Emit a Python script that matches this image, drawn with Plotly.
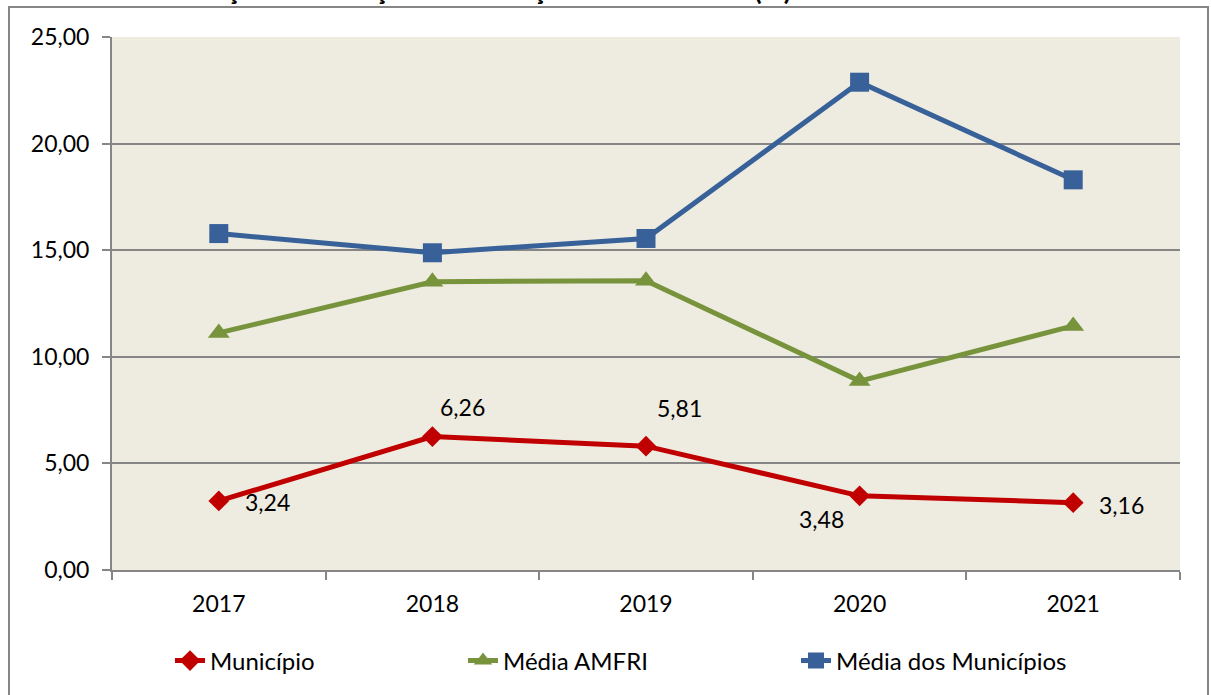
import plotly.graph_objects as go

anos = ['2017', '2018', '2019', '2020', '2021']
municipio = [3.24, 6.26, 5.81, 3.48, 3.16]
media_amfri = [11.12, 13.52, 13.57, 8.86, 11.45]
media_municipios = [15.78, 14.88, 15.55, 22.88, 18.30]
rotulos_municipio = ['3,24', '6,26', '5,81', '3,48', '3,16']

FONTE = 'Lato'
VERMELHO = '#C00000'
VERDE = '#77933C'
AZUL = '#376198'

W, H = 1211, 695
L, T = 112, 37
R = W - 1180
B = H - 570
pw, ph = W - L - R, H - T - B


def px_x(x):
    return (x - L) / pw


def px_y(y):
    return (H - B - y) / ph


fig = go.Figure()

series = [
    ('Média dos Municípios', media_municipios, AZUL, 'square', 19, 'legend3'),
    ('Média AMFRI', media_amfri, VERDE, 'triangle-up', 19, 'legend2'),
    ('Município', municipio, VERMELHO, 'diamond', 16, 'legend'),
]
for nome, vals, cor, simb, tam, leg in series:
    fig.add_trace(go.Scatter(
        x=anos, y=vals, name=nome, mode='lines+markers',
        line=dict(color=cor, width=5),
        marker=dict(symbol=simb, size=tam, color=cor, line=dict(width=0)),
        legend=leg,
    ))

# rótulos da série Município (posições ajustadas à mão como no original)
desloc = [(49, -1), (30, 30), (33, 38), (-38, -23), (48, -2)]
for i, (v, txt, (dx, dy)) in enumerate(zip(municipio, rotulos_municipio, desloc)):
    fig.add_annotation(x=i, y=v, text=txt, showarrow=False, xshift=dx, yshift=dy,
                       font=dict(family=FONTE, size=23, color='black'))

# título cortado no topo (a imagem original corta a metade de cima)
fig.add_annotation(
    xref='paper', yref='paper', x=px_x(13), y=px_y(8), xanchor='left', yanchor='bottom',
    text='<b>Gráfico 6: – Evolução do Esforço de Cobrança da Dívida Ativa (%): 2017 – 2021</b>',
    showarrow=False, font=dict(family=FONTE, size=27, color='black'),
)

# moldura do gráfico
fig.add_shape(type='rect', xref='paper', yref='paper',
              x0=px_x(9), x1=px_x(1208), y0=px_y(705), y1=px_y(7),
              line=dict(color='#868686', width=2), fillcolor='rgba(0,0,0,0)', layer='below')

leg_base = dict(orientation='h', yanchor='middle', xanchor='left', y=px_y(661),
                bgcolor='rgba(0,0,0,0)', font=dict(family=FONTE, size=24, color='black'),
                itemwidth=30)

fig.update_layout(
    width=W, height=H,
    margin=dict(l=L, r=R, t=T, b=B),
    paper_bgcolor='white',
    plot_bgcolor='#EEEBE0',
    separators=',.',
    font=dict(family=FONTE, size=23, color='black'),
    legend=dict(leg_base, x=px_x(170)),
    legend2=dict(leg_base, x=px_x(463)),
    legend3=dict(leg_base, x=px_x(796)),
    xaxis=dict(
        type='category', range=[-0.5, 4.5], tickson='boundaries', ticks='outside', ticklen=8,
        tickcolor='#868686', tickwidth=1.5, showgrid=False, tickangle=0,
        showline=True, linecolor='#868686', linewidth=2,
        tickfont=dict(family=FONTE, size=23), ticklabelstandoff=12,
    ),
    yaxis=dict(
        range=[0, 25], dtick=5, tickformat='.2f', ticks='outside', ticklen=8,
        tickcolor='#868686', tickwidth=1.5, showgrid=True, gridcolor='#868686', gridwidth=1.5,
        showline=True, linecolor='#868686', linewidth=2, zeroline=False,
        tickfont=dict(family=FONTE, size=23), ticklabelstandoff=8,
    ),
    showlegend=True,
)

# tira a margem padrão do body para o gráfico ocupar a janela toda
fig.write_html('out.html', config={'displayModeBar': False},
               post_script="document.body.style.margin='0';")
